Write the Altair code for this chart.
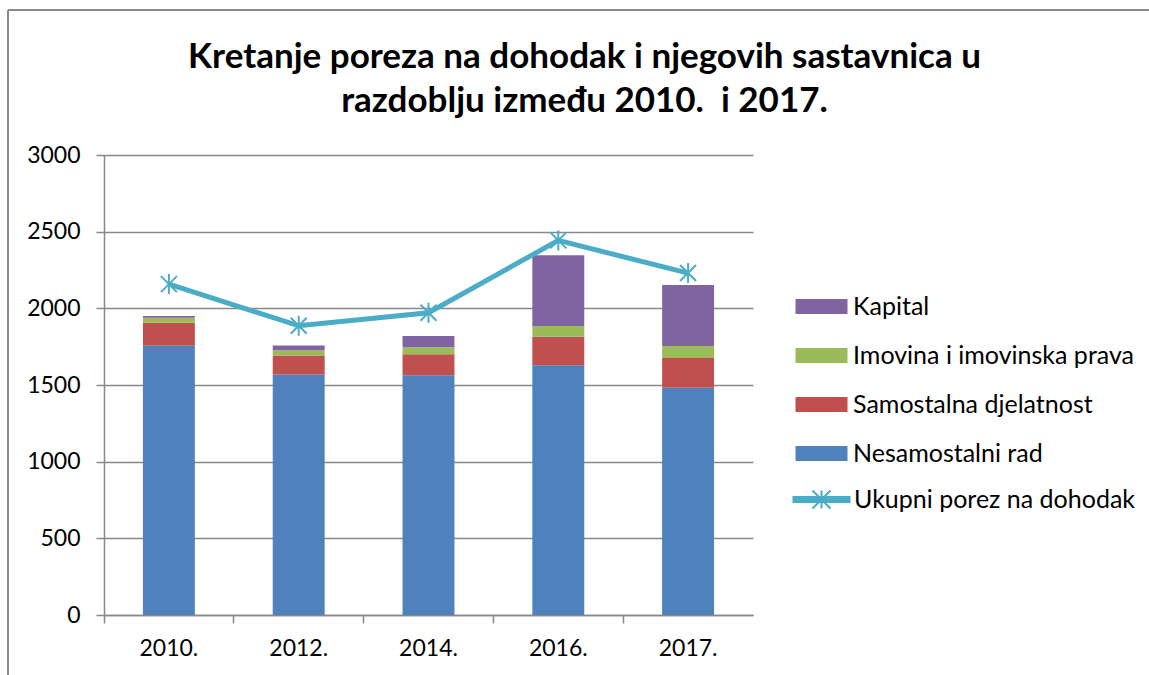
import altair as alt
import pandas as pd

years = ["2010.", "2012.", "2014.", "2016.", "2017."]
nesamostalni = [1756, 1569, 1563, 1628, 1482]
samostalna = [150, 124, 137, 187, 194]
imovina = [32, 33, 47, 69, 78]
kapital = [12, 32, 72, 463, 398]
ukupno = [2158, 1886, 1971, 2443, 2230]

series_names = ["Nesamostalni rad", "Samostalna djelatnost", "Imovina i imovinska prava", "Kapital"]
series_vals = [nesamostalni, samostalna, imovina, kapital]
legend_order = ["Kapital", "Imovina i imovinska prava", "Samostalna djelatnost", "Nesamostalni rad"]
colors = {"Kapital": "#8064A2", "Imovina i imovinska prava": "#9BBB59",
          "Samostalna djelatnost": "#C0504D", "Nesamostalni rad": "#4F81BD"}
line_name = "Ukupni porez na dohodak"
line_color = "#4BACC6"

rows = []
for i, (name, vals) in enumerate(zip(series_names, series_vals)):
    for y, v in zip(years, vals):
        rows.append({"godina": y, "serija": name, "vrijednost": v, "red": i})
bars_df = pd.DataFrame(rows)
line_df = pd.DataFrame({"godina": years, "vrijednost": ukupno, "serija": [line_name] * len(years)})

FONT = "Lato"
GRID = "#888888"

xscale = alt.Scale(domain=years, paddingInner=0, paddingOuter=0)
yscale = alt.Scale(domain=[0, 3000], nice=False)

x_enc = alt.X("godina:N", scale=xscale, sort=years, title=None,
              axis=alt.Axis(labelAngle=0, bandPosition=0, tickSize=8, tickColor=GRID,
                            domainColor=GRID, domainWidth=1.5, tickWidth=1.5,
                            labelPadding=14, labelFontSize=23, labelFont=FONT,
                            labelColor="#000000", grid=False))

# legend symbols: path scaled by sqrt(size)/2 = 10 px per unit
bar_symbol = "M-1,-0.75L4.2,-0.75L4.2,0.75L-1,0.75Z"
line_symbol = ("M-1,-0.25L4.6,-0.25L4.6,0.25L-1,0.25Z"
               "M1.8,-0.9L1.8,0.9M0.9,-0.9L2.7,0.9M0.9,0.9L2.7,-0.9")

bars = alt.Chart(bars_df).mark_bar(width=alt.RelativeBandSize(0.4)).encode(
    x=x_enc,
    y=alt.Y("vrijednost:Q", stack="zero", scale=yscale, title=None,
            axis=alt.Axis(values=[0, 500, 1000, 1500, 2000, 2500, 3000], format="d", tickSize=8,
                          tickColor=GRID, domainColor=GRID, domainWidth=1.5, tickWidth=1.5,
                          gridColor=GRID, gridWidth=1.5, labelPadding=16,
                          labelFontSize=23, labelFont=FONT, labelColor="#000000")),
    fill=alt.Fill("serija:N",
                  scale=alt.Scale(domain=legend_order, range=[colors[k] for k in legend_order]),
                  legend=alt.Legend(title=None, orient="none", legendX=689, legendY=139,
                                    symbolType=bar_symbol,
                                    symbolSize=400, symbolStrokeWidth=0,
                                    labelFontSize=25, labelFont=FONT, labelColor="#000000",
                                    labelOffset=35, rowPadding=23, padding=0, labelLimit=400)),
    order=alt.Order("red:Q", sort="ascending"),
)

line = alt.Chart(line_df).mark_line(strokeWidth=5).encode(
    x=alt.X("godina:N", scale=xscale, sort=years),
    y=alt.Y("vrijednost:Q", scale=yscale),
    stroke=alt.Stroke("serija:N", scale=alt.Scale(domain=[line_name], range=[line_color]),
                      legend=alt.Legend(title=None, orient="none", legendX=687, legendY=332,
                                        symbolType=line_symbol,
                                        symbolSize=400, symbolStrokeWidth=2,
                                        symbolFillColor=line_color, symbolStrokeColor=line_color,
                                        labelFontSize=25, labelFont=FONT, labelColor="#000000",
                                        labelOffset=38, padding=0, labelLimit=400)),
)

points = alt.Chart(line_df).mark_point(
    shape="M0,-1L0,1M-0.8,-0.8L0.8,0.8M-0.8,0.8L0.8,-0.8",
    filled=False, size=400, strokeWidth=2, color=line_color, opacity=1,
).encode(
    x=alt.X("godina:N", scale=xscale, sort=years),
    y=alt.Y("vrijednost:Q", scale=yscale),
)

frame_left = alt.Chart(line_df).mark_rule(color="#8a8a8a", strokeWidth=2).encode(
    x=alt.value(-96), y=alt.value(-145), y2=alt.value(530))
frame_top = alt.Chart(line_df).mark_rule(color="#8a8a8a", strokeWidth=2).encode(
    x=alt.value(-96), x2=alt.value(1060), y=alt.value(-145))

chart = alt.layer(bars, line, points, frame_left, frame_top).properties(
    width=649, height=460,
    autosize=alt.AutoSizeParams(type="none"),
    padding={"left": 104, "top": 155, "right": 396, "bottom": 60},
    title=alt.TitleParams(
        text=["Kretanje poreza na dohodak i njegovih sastavnica u", "razdoblju između 2010. \u00a0i 2017."],
        font=FONT, fontSize=35, fontWeight="bold", color="#000000",
        anchor="middle", frame="group", dx=156, offset=-110, lineHeight=44),
).configure_view(stroke=None).configure_legend(orient="none")

chart.save("out.html", embed_options={"renderer": "svg", "actions": False})
